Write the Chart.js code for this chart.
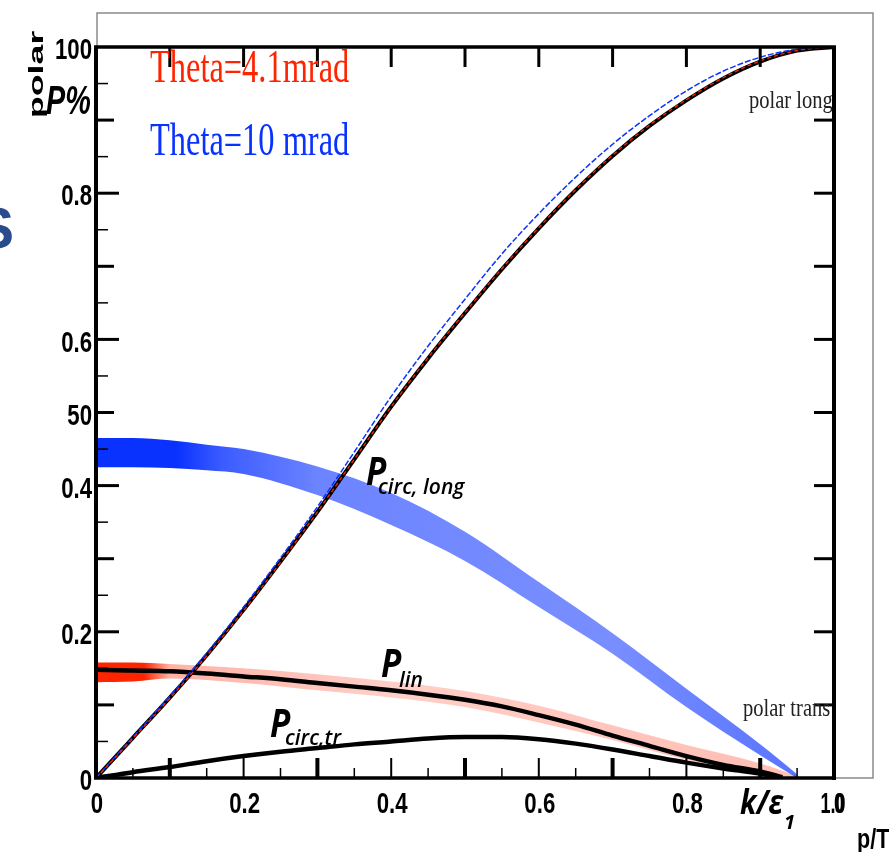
<!DOCTYPE html>
<html>
<head>
<meta charset="utf-8">
<script src="https://cdn.jsdelivr.net/npm/chart.js@4.4.1/dist/chart.umd.min.js"></script>
<style>
  html, body { margin: 0; padding: 0; background: #ffffff; }
  #wrap { width: 889px; height: 852px; position: relative; }
</style>
</head>
<body>
<div id="wrap"><canvas id="polarChart"></canvas></div>
<script>
// valeurs (k/eps1 en abscisse, polarisation en ordonnée)
const kLong = [0, 0.05, 0.1, 0.15, 0.2, 0.25, 0.3, 0.35, 0.4, 0.45, 0.5, 0.55, 0.6, 0.65, 0.7, 0.75, 0.8, 0.85, 0.9, 0.95, 1.0];
const blackLong = [0, 0.055, 0.11, 0.168, 0.23, 0.296, 0.364, 0.436, 0.508, 0.574, 0.636, 0.696, 0.752, 0.804, 0.851, 0.892, 0.927, 0.957, 0.98, 0.995, 1.0];
const redLong = [0, 0.054, 0.109, 0.167, 0.229, 0.295, 0.364, 0.436, 0.508, 0.575, 0.637, 0.697, 0.753, 0.805, 0.852, 0.893, 0.928, 0.958, 0.981, 0.995, 1.0];
const blueLong = [0, 0.056, 0.112, 0.171, 0.234, 0.301, 0.371, 0.446, 0.522, 0.591, 0.655, 0.717, 0.772, 0.822, 0.867, 0.906, 0.94, 0.967, 0.986, 0.997, 1.0];

const kTrans = [0, 0.05, 0.1, 0.15, 0.2, 0.25, 0.3, 0.35, 0.4, 0.45, 0.5, 0.55, 0.6, 0.65, 0.7, 0.75, 0.8, 0.85, 0.9, 0.93];
const pLin = [0.148, 0.147, 0.146, 0.143, 0.139, 0.135, 0.13, 0.125, 0.12, 0.114, 0.107, 0.098, 0.086, 0.073, 0.058, 0.044, 0.03, 0.018, 0.009, 0.001];
const pCircTr = [0, 0.008, 0.015, 0.023, 0.03, 0.036, 0.041, 0.046, 0.05, 0.054, 0.056, 0.056, 0.053, 0.047, 0.039, 0.03, 0.021, 0.013, 0.006, 0];

// nuages de points (bornes haute et basse)
const kBlueBand = [0, 0.05, 0.1, 0.15, 0.2, 0.3, 0.4, 0.5, 0.6, 0.7, 0.8, 0.9, 0.95];
const blueUpper = [0.465, 0.465, 0.462, 0.456, 0.45, 0.426, 0.39, 0.337, 0.268, 0.198, 0.122, 0.046, 0.005];
const blueLower = [0.425, 0.425, 0.424, 0.421, 0.416, 0.387, 0.346, 0.297, 0.234, 0.17, 0.097, 0.031, 0];

const kRedBand = [0, 0.05, 0.1, 0.2, 0.3, 0.4, 0.5, 0.6, 0.7, 0.8, 0.9, 0.95];
const redUpper = [0.158, 0.158, 0.156, 0.15, 0.142, 0.132, 0.119, 0.099, 0.072, 0.045, 0.02, 0.003];
const redLower = [0.131, 0.132, 0.136, 0.13, 0.12, 0.11, 0.097, 0.076, 0.052, 0.025, 0.006, 0];

// étiquettes des axes
const yTickValues = [0, 0.2, 0.4, 0.5, 0.6, 0.8, 1.0];
const yTickLabels = ['0', '0.2', '0.4', '50', '0.6', '0.8', '100'];
const xTickValues = [0, 0.2, 0.4, 0.6, 0.8];
const xTickLabels = ['0', '0.2', '0.4', '0.6', '0.8'];

const BLUE = '#0a32ff';
const RED = '#ff2400';

function pts(xs, ys) {
    return xs.map((x, i) => ({ x: x, y: ys[i] }));
}

// dégradé horizontal : nuage dense à gauche, clairsemé ensuite
function bandFill(rgb, stops) {
    return function(c) {
        const area = c.chart.chartArea;
        if (!area) return 'rgba(0,0,0,0)';
        const g = c.chart.ctx.createLinearGradient(area.left, 0, area.right, 0);
        stops.forEach(s => g.addColorStop(s[0], 'rgba(' + rgb + ',' + s[1] + ')'));
        return g;
    };
}

// texte compressé horizontalement
function txt(ctx, s, x, y, font, color, sx, align, base) {
    ctx.save();
    ctx.font = font;
    ctx.fillStyle = color;
    ctx.textAlign = align || 'left';
    ctx.textBaseline = base || 'alphabetic';
    ctx.translate(x, y);
    ctx.scale(sx, 1);
    ctx.fillText(s, 0, 0);
    ctx.restore();
}

const decor = {
    id: 'decor',
    beforeDraw(chart) {
        const ctx = chart.ctx;
        ctx.save();
        ctx.fillStyle = '#ffffff';
        ctx.fillRect(0, 0, chart.width, chart.height);
        ctx.restore();
    },
    afterDraw(chart) {
        const ctx = chart.ctx;
        const xs = chart.scales.x, ys = chart.scales.y;
        const L = xs.getPixelForValue(0), R = xs.getPixelForValue(1);
        const B = ys.getPixelForValue(0), T = ys.getPixelForValue(1);

        ctx.save();
        ctx.lineCap = 'butt';

        // cadre gris fin
        ctx.strokeStyle = '#8a8a8a';
        ctx.lineWidth = 1.5;
        ctx.beginPath();
        ctx.moveTo(L + 1, B);
        ctx.lineTo(L + 1, T - 34);
        ctx.lineTo(R + 39, T - 34);
        ctx.lineTo(R + 39, B);
        ctx.lineTo(R, B);
        ctx.stroke();

        // axes épais
        ctx.strokeStyle = '#000';
        ctx.lineWidth = 4;
        ctx.beginPath();
        ctx.moveTo(L, B); ctx.lineTo(L, T);
        ctx.moveTo(R, B + 2); ctx.lineTo(R, T);
        ctx.stroke();
        ctx.lineWidth = 3.5;
        ctx.beginPath();
        ctx.moveTo(L - 2, T); ctx.lineTo(R + 2, T);
        ctx.moveTo(L - 2, B); ctx.lineTo(R + 2, B);
        ctx.stroke();

        // graduations gauche
        for (let i = 1; i < 20; i++) {
            const py = ys.getPixelForValue(i * 0.05);
            let len = 12, w = 1.5;
            if (i % 4 === 0) { len = 23; w = 3; }
            else if (i % 2 === 0) { len = 18; w = 3; }
            ctx.lineWidth = w;
            ctx.beginPath(); ctx.moveTo(L, py); ctx.lineTo(L + len, py); ctx.stroke();
        }
        // graduations bas
        for (let i = 1; i < 20; i++) {
            const px = xs.getPixelForValue(i * 0.05);
            let len = 10, w = 1.5;
            if (i % 2 === 0) { len = 20; w = (i % 4 === 2) ? 4 : 2; }
            ctx.lineWidth = w;
            ctx.beginPath(); ctx.moveTo(px, B); ctx.lineTo(px, B - len); ctx.stroke();
        }
        // graduations haut et droite
        ctx.lineWidth = 3;
        for (let i = 1; i < 10; i++) {
            const px = xs.getPixelForValue(i * 0.1);
            ctx.beginPath(); ctx.moveTo(px, T); ctx.lineTo(px, T + 20); ctx.stroke();
            const py = ys.getPixelForValue(i * 0.1);
            ctx.beginPath(); ctx.moveTo(R, py); ctx.lineTo(R - 20, py); ctx.stroke();
        }

        // étiquettes des graduations
        const tickFont = 'bold 30px "Liberation Sans"';
        yTickValues.forEach((v, i) => {
            const py = ys.getPixelForValue(v);
            txt(ctx, yTickLabels[i], L - 4, py + 4, tickFont, '#000', 0.74, 'right', 'middle');
        });
        xTickValues.forEach((v, i) => {
            const px = xs.getPixelForValue(v);
            txt(ctx, xTickLabels[i], px + 1, B + 35, tickFont, '#000', 0.74, 'center');
        });
        txt(ctx, '1.0', R - 1, B + 35, tickFont, '#000', 0.6, 'center');
        txt(ctx, '0', R + 5, B + 35, tickFont, '#000', 0.6, 'center');

        // titre de l'axe Y
        ctx.save();
        ctx.translate(43, 118);
        ctx.rotate(-Math.PI / 2);
        ctx.scale(1.7, 1);
        ctx.font = 'bold 21px "Liberation Sans"';
        ctx.fillStyle = '#000';
        ctx.fillText('polar', 0, 0);
        ctx.restore();
        txt(ctx, 'P%', 46, 114, 'italic bold 40px "Liberation Sans"', '#000', 0.72, 'left');

        // légendes colorées
        txt(ctx, 'Theta=4.1mrad', 150, 82, '47px "Liberation Serif"', RED, 0.69, 'left');
        txt(ctx, 'Theta=10 mrad', 150, 155, '47px "Liberation Serif"', BLUE, 0.69, 'left');
        txt(ctx, 'polar long', 749, 108, '26px "Liberation Serif"', '#222', 0.79, 'left');
        txt(ctx, 'polar trans', 743, 716, '26px "Liberation Serif"', '#222', 0.79, 'left');

        // annotations des courbes
        const bigP = 'italic bold 39px "Open Sans"';
        const sub = 'italic 600 21px "Open Sans"';
        txt(ctx, 'P', 366, 485, bigP, '#000', 0.85, 'left');
        txt(ctx, 'circ, long', 378, 494, sub, '#000', 1.0, 'left');
        txt(ctx, 'P', 381, 677, bigP, '#000', 0.85, 'left');
        txt(ctx, 'lin', 399, 687, sub, '#000', 1.0, 'left');
        txt(ctx, 'P', 270, 737, bigP, '#000', 0.85, 'left');
        txt(ctx, 'circ,tr', 285, 745, sub, '#000', 1.0, 'left');

        // titre de l'axe X
        txt(ctx, 'k/\u03b5', 740, 814, 'italic bold 34px "Open Sans"', '#000', 0.85, 'left');
        txt(ctx, '1', 784, 829, 'italic bold 20px "Open Sans"', '#000', 1.0, 'left');
        txt(ctx, 'p/T', 857, 848, 'bold 27px "Liberation Sans"', '#000', 0.8, 'left');

        // lettre coupée au bord gauche
        txt(ctx, 'S', -24, 248, 'bold 57px "Liberation Sans"', '#2b4b8c', 1.0, 'left');

        ctx.restore();
    }
};

new Chart(document.getElementById('polarChart'), {
    type: 'line',
    data: {
        datasets: [{
            label: 'polar long, Theta=4.1mrad',
            data: pts(kLong, redLong),
            borderColor: RED,
            borderWidth: 1.3,
            borderDash: [4, 3],
            order: 1
        }, {
            label: 'polar long, Theta=10 mrad',
            data: pts(kLong, blueLong),
            borderColor: BLUE,
            borderWidth: 1.5,
            borderDash: [6, 2],
            order: 1
        }, {
            label: 'P circ,long',
            data: pts(kLong, blackLong),
            borderColor: '#000',
            borderWidth: 4,
            order: 2
        }, {
            label: 'P lin',
            data: pts(kTrans, pLin),
            borderColor: '#000',
            borderWidth: 4.5,
            order: 2
        }, {
            label: 'P circ,tr',
            data: pts(kTrans, pCircTr),
            borderColor: '#000',
            borderWidth: 4.5,
            order: 2
        }, {
            label: 'polar trans, Theta=10 mrad',
            data: pts(kBlueBand, blueUpper),
            borderColor: 'rgba(0,0,0,0)',
            borderWidth: 0,
            fill: '+1',
            backgroundColor: bandFill('10,50,255', [[0, 1], [0.11, 1], [0.17, 0.8], [0.3, 0.6], [0.7, 0.55], [1, 0.7]]),
            order: 5
        }, {
            label: 'trans lower blue',
            data: pts(kBlueBand, blueLower),
            borderColor: 'rgba(0,0,0,0)',
            borderWidth: 0,
            fill: false,
            order: 5
        }, {
            label: 'polar trans, Theta=4.1mrad',
            data: pts(kRedBand, redUpper),
            borderColor: 'rgba(0,0,0,0)',
            borderWidth: 0,
            fill: '+1',
            backgroundColor: bandFill('255,36,0', [[0, 1], [0.065, 1], [0.1, 0.35], [0.4, 0.22], [1, 0.3]]),
            order: 5
        }, {
            label: 'trans lower red',
            data: pts(kRedBand, redLower),
            borderColor: 'rgba(0,0,0,0)',
            borderWidth: 0,
            fill: false,
            order: 5
        }]
    },
    options: {
        responsive: true,
        maintainAspectRatio: false,
        animation: false,
        layout: {
            padding: { left: 96, right: 55, top: 47, bottom: 74 }
        },
        elements: {
            point: { radius: 0 },
            line: { cubicInterpolationMode: 'monotone' }
        },
        scales: {
            x: { type: 'linear', min: 0, max: 1, display: false },
            y: { type: 'linear', min: 0, max: 1, display: false }
        },
        plugins: {
            legend: { display: false },
            tooltip: { enabled: false }
        }
    },
    plugins: [decor]
});
</script>
</body>
</html>
